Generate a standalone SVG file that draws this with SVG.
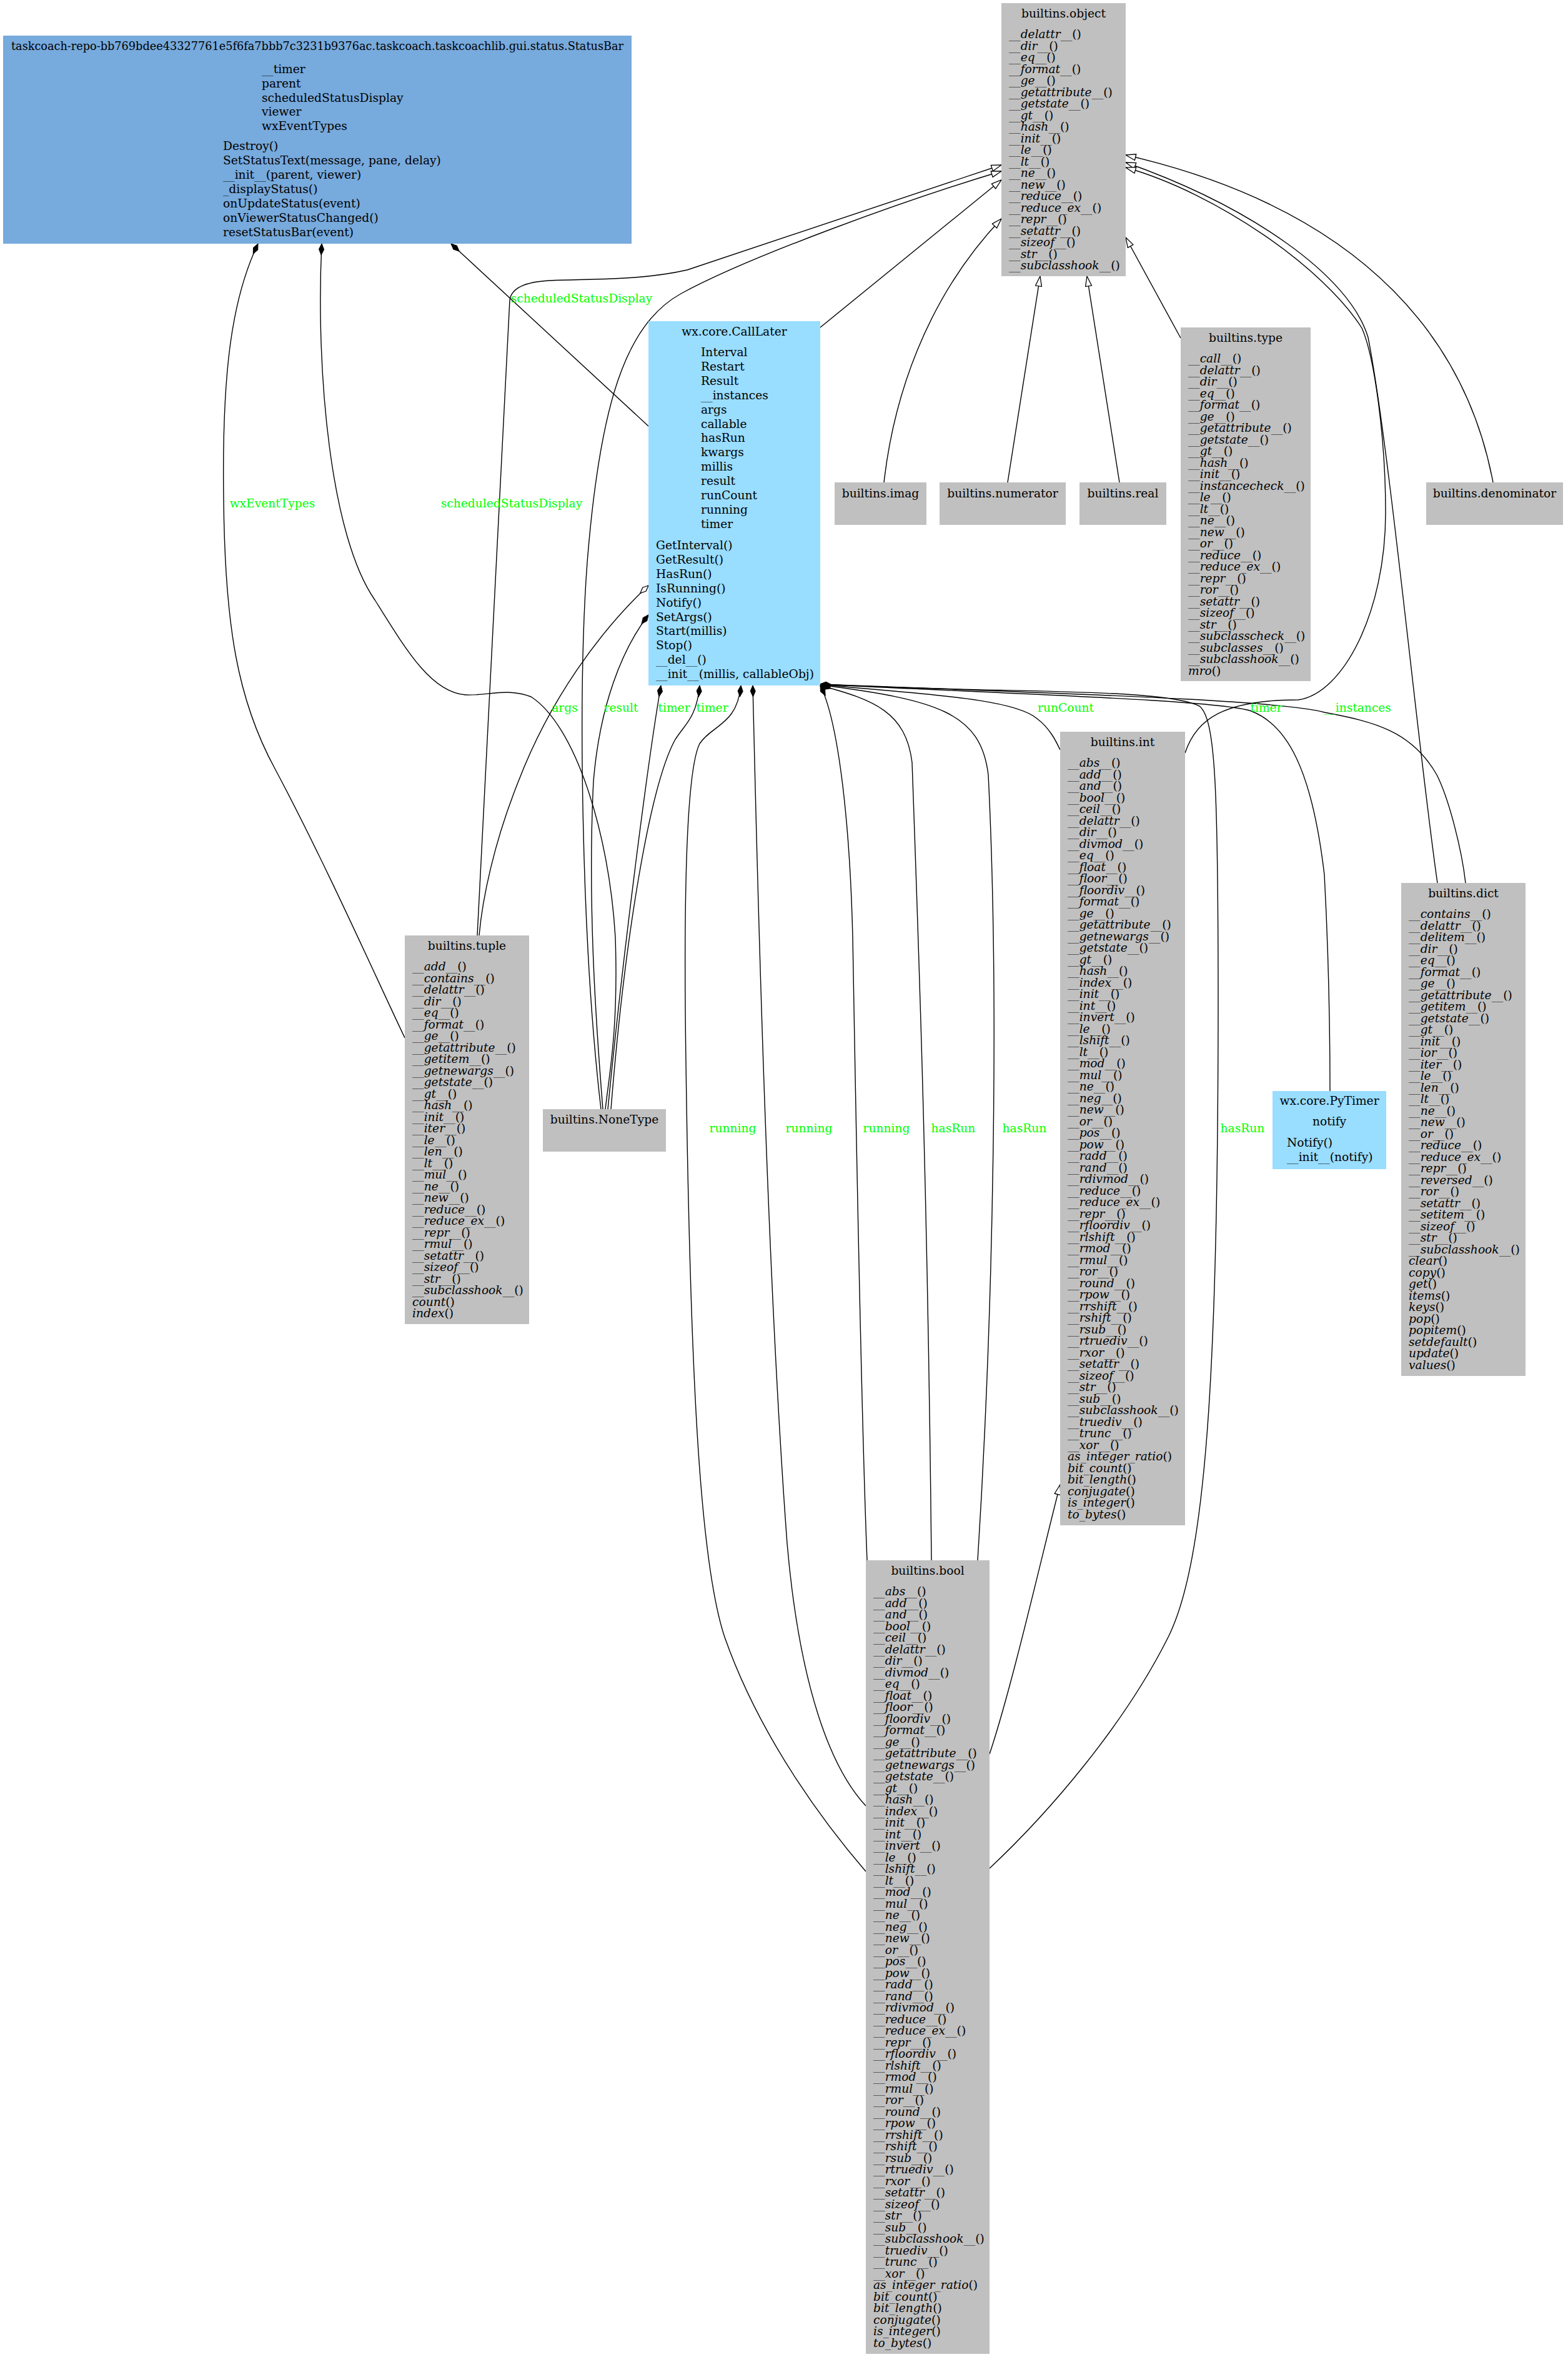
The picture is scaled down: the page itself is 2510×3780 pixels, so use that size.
<svg xmlns="http://www.w3.org/2000/svg" width="2510" height="3780" viewBox="0 0 2510 3780">
<style>
.n{font-family:"DejaVu Serif","Liberation Serif",serif;font-size:18.67px;fill:#000}
.t{text-anchor:middle}
.i{font-style:italic}
.lbl{font-family:"DejaVu Serif","Liberation Serif",serif;font-size:18.67px;fill:#00ff00;text-anchor:middle}
.e{fill:none;stroke:#000;stroke-width:1.4}
.inh{marker-end:url(#tri)}
.comp{marker-start:url(#dia)}
.agg{marker-start:url(#odia)}
.gray{fill:#c0c0c0}
.blue{fill:#77aadd}
.cyan{fill:#99ddff}
</style>
<defs>
<marker id="tri" markerUnits="userSpaceOnUse" viewBox="0 0 18 12" refX="17" refY="6" markerWidth="18" markerHeight="12" orient="auto"><path d="M1,1 L17,6 L1,11 z" fill="#fff" stroke="#000" stroke-width="1.3"/></marker>
<marker id="dia" markerUnits="userSpaceOnUse" viewBox="0 0 20 10" refX="1" refY="5" markerWidth="20" markerHeight="10" orient="auto"><path d="M1,5 L10,1 L19,5 L10,9 z" fill="#000" stroke="#000" stroke-width="1"/></marker>
<marker id="odia" markerUnits="userSpaceOnUse" viewBox="0 0 20 10" refX="1" refY="5" markerWidth="20" markerHeight="10" orient="auto"><path d="M1,5 L10,1 L19,5 L10,9 z" fill="#fff" stroke="#000" stroke-width="1.3"/></marker>
</defs>
<rect width="2510" height="3780" fill="#fff"/>

<g id="edges">
<path class="e inh" d="M764,1497 L816,480 Q820,452 880,449 C960,446 1030,448 1100,432 L1603,264"/>
<path class="e inh" d="M962,1775 C930,1500 925,1100 940,900 C960,650 1000,520 1090,470 C1200,410 1450,320 1603,274"/>
<path class="e inh" d="M1313,524 L1603,288"/>
<path class="e inh" d="M1415,772 C1430,640 1480,480 1603,350"/>
<path class="e inh" d="M1613,772 L1665,442"/>
<path class="e inh" d="M1792,772 L1740,442"/>
<path class="e inh" d="M1890,541 L1802,380"/>
<path class="e inh" d="M2390,772 C2350,560 2200,340 1802,248"/>
<path class="e inh" d="M2301,1413 C2270,1200 2225,720 2190,540 C2160,440 2000,330 1802,260"/>
<path class="e inh" d="M1897,1205 C1915,1150 1960,1120 2078,1120 C2150,1110 2218,980 2218,820 C2218,700 2200,570 2180,525 C2120,430 1950,310 1802,268"/>
<path class="e inh" d="M1584,2807 C1620,2700 1670,2480 1697,2376"/>

<path class="e comp" d="M722,390 L1038,682"/>
<path class="e comp" d="M515,390 C505,600 530,860 600,960 C650,1040 690,1108 745,1112 C780,1114 810,1100 850,1115 C920,1160 975,1330 985,1500 C990,1650 975,1720 969,1775"/>
<path class="e comp" d="M413,390 C370,480 355,600 358,800 C360,1000 380,1120 440,1230 C520,1380 600,1560 648,1661"/>
<path class="e agg" d="M1038,937 C960,1010 880,1120 830,1250 C790,1350 772,1440 767,1497"/>
<path class="e comp" d="M1038,984 C995,1040 960,1130 950,1250 C940,1450 955,1650 965,1775"/>
<path class="e comp" d="M1058,1097 C1040,1200 1000,1500 973,1775"/>
<path class="e comp" d="M1120,1097 C1115,1150 1095,1160 1080,1185 C1040,1260 1000,1500 978,1775"/>
<path class="e comp" d="M1186,1097 C1180,1160 1140,1160 1120,1190 C1095,1240 1095,1500 1098,1700 C1105,2200 1120,2500 1160,2620 C1220,2790 1330,2930 1386,2995"/>
<path class="e comp" d="M1205,1097 C1210,1300 1225,2000 1260,2470 C1280,2700 1330,2830 1386,2890"/>
<path class="e comp" d="M1313,1097 C1340,1150 1360,1300 1365,1500 C1372,1900 1380,2300 1388,2497"/>
<path class="e comp" d="M1313,1097 C1400,1120 1450,1140 1460,1220 C1470,1500 1485,1900 1491,2497"/>
<path class="e comp" d="M1313,1096 C1500,1120 1570,1140 1582,1240 C1600,1600 1590,2100 1565,2497"/>
<path class="e comp" d="M1313,1095 C1450,1110 1620,1115 1660,1150 C1680,1165 1690,1185 1697,1200"/>
<path class="e comp" d="M1313,1095 C1600,1110 1860,1100 1920,1130 C1945,1150 1950,1250 1950,1600 C1950,2200 1930,2500 1870,2620 C1800,2760 1680,2900 1584,2990"/>
<path class="e comp" d="M1313,1095 C1600,1110 1950,1120 2003,1138 C2060,1160 2100,1230 2120,1400 C2128,1550 2129,1680 2129,1746"/>
<path class="e comp" d="M1313,1095 C1700,1110 2050,1120 2120,1140 C2200,1155 2260,1170 2300,1240 C2320,1280 2340,1360 2346,1413"/>

<text class="lbl" x="931" y="484">scheduledStatusDisplay</text>
<text class="lbl" x="819" y="812">scheduledStatusDisplay</text>
<text class="lbl" x="436" y="812">wxEventTypes</text>
<text class="lbl" x="904" y="1139">args</text>
<text class="lbl" x="994" y="1139">result</text>
<text class="lbl" x="1079" y="1139">timer</text>
<text class="lbl" x="1140" y="1139">timer</text>
<text class="lbl" x="1706" y="1139">runCount</text>
<text class="lbl" x="2027" y="1139">timer</text>
<text class="lbl" x="2173" y="1139">__instances</text>
<text class="lbl" x="1173" y="1812">running</text>
<text class="lbl" x="1295" y="1812">running</text>
<text class="lbl" x="1419" y="1812">running</text>
<text class="lbl" x="1526" y="1812">hasRun</text>
<text class="lbl" x="1640" y="1812">hasRun</text>
<text class="lbl" x="1989" y="1812">hasRun</text>
</g>

<g id="StatusBar">
<rect class="blue" x="5" y="57" width="1006" height="333"/>
<text class="n" x="18" y="80" textLength="980" lengthAdjust="spacingAndGlyphs">taskcoach-repo-bb769bdee43327761e5f6fa7bbb7c3231b9376ac.taskcoach.taskcoachlib.gui.status.StatusBar</text>
<text class="n"><tspan x="419" y="117">__timer</tspan><tspan x="419" dy="22.75">parent</tspan><tspan x="419" dy="22.75">scheduledStatusDisplay</tspan><tspan x="419" dy="22.75">viewer</tspan><tspan x="419" dy="22.75">wxEventTypes</tspan></text>
<text class="n"><tspan x="357" y="240">Destroy()</tspan><tspan x="357" dy="23">SetStatusText(message, pane, delay)</tspan><tspan x="357" dy="23">__init__(parent, viewer)</tspan><tspan x="357" dy="23">_displayStatus()</tspan><tspan x="357" dy="23">onUpdateStatus(event)</tspan><tspan x="357" dy="23">onViewerStatusChanged()</tspan><tspan x="357" dy="23">resetStatusBar(event)</tspan></text>
</g>

<g id="CallLater">
<rect class="cyan" x="1038" y="514" width="275" height="583"/>
<text class="n t" x="1175.5" y="537">wx.core.CallLater</text>
<text class="n"><tspan x="1122" y="570">Interval</tspan><tspan x="1122" dy="22.9">Restart</tspan><tspan x="1122" dy="22.9">Result</tspan><tspan x="1122" dy="22.9">__instances</tspan><tspan x="1122" dy="22.9">args</tspan><tspan x="1122" dy="22.9">callable</tspan><tspan x="1122" dy="22.9">hasRun</tspan><tspan x="1122" dy="22.9">kwargs</tspan><tspan x="1122" dy="22.9">millis</tspan><tspan x="1122" dy="22.9">result</tspan><tspan x="1122" dy="22.9">runCount</tspan><tspan x="1122" dy="22.9">running</tspan><tspan x="1122" dy="22.9">timer</tspan></text>
<text class="n"><tspan x="1050" y="879">GetInterval()</tspan><tspan x="1050" dy="22.9">GetResult()</tspan><tspan x="1050" dy="22.9">HasRun()</tspan><tspan x="1050" dy="22.9">IsRunning()</tspan><tspan x="1050" dy="22.9">Notify()</tspan><tspan x="1050" dy="22.9">SetArgs()</tspan><tspan x="1050" dy="22.9">Start(millis)</tspan><tspan x="1050" dy="22.9">Stop()</tspan><tspan x="1050" dy="22.9">__del__()</tspan><tspan x="1050" dy="22.9">__init__(millis, callableObj)</tspan></text>
</g>

<g id="PyTimer">
<rect class="cyan" x="2037" y="1746" width="182" height="125"/>
<text class="n t" x="2128" y="1768">wx.core.PyTimer</text>
<text class="n" x="2101" y="1801">notify</text>
<text class="n"><tspan x="2060" y="1835">Notify()</tspan><tspan x="2060" dy="23">__init__(notify)</tspan></text>
</g>

<g id="object">
<rect class="gray" x="1603" y="5" width="199" height="437"/>
<text class="n t" x="1702.5" y="28">builtins.object</text>
<text class="n"><tspan x="1615" y="61"><tspan class="i">__delattr__</tspan>()</tspan><tspan x="1615" dy="18.5"><tspan class="i">__dir__</tspan>()</tspan><tspan x="1615" dy="18.5"><tspan class="i">__eq__</tspan>()</tspan><tspan x="1615" dy="18.5"><tspan class="i">__format__</tspan>()</tspan><tspan x="1615" dy="18.5"><tspan class="i">__ge__</tspan>()</tspan><tspan x="1615" dy="18.5"><tspan class="i">__getattribute__</tspan>()</tspan><tspan x="1615" dy="18.5"><tspan class="i">__getstate__</tspan>()</tspan><tspan x="1615" dy="18.5"><tspan class="i">__gt__</tspan>()</tspan><tspan x="1615" dy="18.5"><tspan class="i">__hash__</tspan>()</tspan><tspan x="1615" dy="18.5"><tspan class="i">__init__</tspan>()</tspan><tspan x="1615" dy="18.5"><tspan class="i">__le__</tspan>()</tspan><tspan x="1615" dy="18.5"><tspan class="i">__lt__</tspan>()</tspan><tspan x="1615" dy="18.5"><tspan class="i">__ne__</tspan>()</tspan><tspan x="1615" dy="18.5"><tspan class="i">__new__</tspan>()</tspan><tspan x="1615" dy="18.5"><tspan class="i">__reduce__</tspan>()</tspan><tspan x="1615" dy="18.5"><tspan class="i">__reduce_ex__</tspan>()</tspan><tspan x="1615" dy="18.5"><tspan class="i">__repr__</tspan>()</tspan><tspan x="1615" dy="18.5"><tspan class="i">__setattr__</tspan>()</tspan><tspan x="1615" dy="18.5"><tspan class="i">__sizeof__</tspan>()</tspan><tspan x="1615" dy="18.5"><tspan class="i">__str__</tspan>()</tspan><tspan x="1615" dy="18.5"><tspan class="i">__subclasshook__</tspan>()</tspan></text>
</g>

<g id="type">
<rect class="gray" x="1890" y="524" width="208" height="566"/>
<text class="n t" x="1994" y="547">builtins.type</text>
<text class="n"><tspan x="1902" y="580"><tspan class="i">__call__</tspan>()</tspan><tspan x="1902" dy="18.5"><tspan class="i">__delattr__</tspan>()</tspan><tspan x="1902" dy="18.5"><tspan class="i">__dir__</tspan>()</tspan><tspan x="1902" dy="18.5"><tspan class="i">__eq__</tspan>()</tspan><tspan x="1902" dy="18.5"><tspan class="i">__format__</tspan>()</tspan><tspan x="1902" dy="18.5"><tspan class="i">__ge__</tspan>()</tspan><tspan x="1902" dy="18.5"><tspan class="i">__getattribute__</tspan>()</tspan><tspan x="1902" dy="18.5"><tspan class="i">__getstate__</tspan>()</tspan><tspan x="1902" dy="18.5"><tspan class="i">__gt__</tspan>()</tspan><tspan x="1902" dy="18.5"><tspan class="i">__hash__</tspan>()</tspan><tspan x="1902" dy="18.5"><tspan class="i">__init__</tspan>()</tspan><tspan x="1902" dy="18.5"><tspan class="i">__instancecheck__</tspan>()</tspan><tspan x="1902" dy="18.5"><tspan class="i">__le__</tspan>()</tspan><tspan x="1902" dy="18.5"><tspan class="i">__lt__</tspan>()</tspan><tspan x="1902" dy="18.5"><tspan class="i">__ne__</tspan>()</tspan><tspan x="1902" dy="18.5"><tspan class="i">__new__</tspan>()</tspan><tspan x="1902" dy="18.5"><tspan class="i">__or__</tspan>()</tspan><tspan x="1902" dy="18.5"><tspan class="i">__reduce__</tspan>()</tspan><tspan x="1902" dy="18.5"><tspan class="i">__reduce_ex__</tspan>()</tspan><tspan x="1902" dy="18.5"><tspan class="i">__repr__</tspan>()</tspan><tspan x="1902" dy="18.5"><tspan class="i">__ror__</tspan>()</tspan><tspan x="1902" dy="18.5"><tspan class="i">__setattr__</tspan>()</tspan><tspan x="1902" dy="18.5"><tspan class="i">__sizeof__</tspan>()</tspan><tspan x="1902" dy="18.5"><tspan class="i">__str__</tspan>()</tspan><tspan x="1902" dy="18.5"><tspan class="i">__subclasscheck__</tspan>()</tspan><tspan x="1902" dy="18.5"><tspan class="i">__subclasses__</tspan>()</tspan><tspan x="1902" dy="18.5"><tspan class="i">__subclasshook__</tspan>()</tspan><tspan x="1902" dy="18.5"><tspan class="i">mro</tspan>()</tspan></text>
</g>

<g id="imag">
<rect class="gray" x="1336" y="772" width="147" height="68"/>
<text class="n t" x="1409.5" y="796">builtins.imag</text>
</g>
<g id="numerator">
<rect class="gray" x="1504" y="772" width="202" height="68"/>
<text class="n t" x="1605" y="796">builtins.numerator</text>
</g>
<g id="real">
<rect class="gray" x="1728" y="772" width="139" height="68"/>
<text class="n t" x="1797.5" y="796">builtins.real</text>
</g>
<g id="denominator">
<rect class="gray" x="2283" y="772" width="219" height="68"/>
<text class="n t" x="2392.5" y="796">builtins.denominator</text>
</g>
<g id="NoneType">
<rect class="gray" x="869" y="1775" width="197" height="68"/>
<text class="n t" x="967.5" y="1798">builtins.NoneType</text>
</g>

<g id="int">
<rect class="gray" x="1697" y="1171" width="200" height="1270"/>
<text class="n t" x="1797" y="1194">builtins.int</text>
<text class="n"><tspan x="1709" y="1227"><tspan class="i">__abs__</tspan>()</tspan><tspan x="1709" dy="18.5"><tspan class="i">__add__</tspan>()</tspan><tspan x="1709" dy="18.5"><tspan class="i">__and__</tspan>()</tspan><tspan x="1709" dy="18.5"><tspan class="i">__bool__</tspan>()</tspan><tspan x="1709" dy="18.5"><tspan class="i">__ceil__</tspan>()</tspan><tspan x="1709" dy="18.5"><tspan class="i">__delattr__</tspan>()</tspan><tspan x="1709" dy="18.5"><tspan class="i">__dir__</tspan>()</tspan><tspan x="1709" dy="18.5"><tspan class="i">__divmod__</tspan>()</tspan><tspan x="1709" dy="18.5"><tspan class="i">__eq__</tspan>()</tspan><tspan x="1709" dy="18.5"><tspan class="i">__float__</tspan>()</tspan><tspan x="1709" dy="18.5"><tspan class="i">__floor__</tspan>()</tspan><tspan x="1709" dy="18.5"><tspan class="i">__floordiv__</tspan>()</tspan><tspan x="1709" dy="18.5"><tspan class="i">__format__</tspan>()</tspan><tspan x="1709" dy="18.5"><tspan class="i">__ge__</tspan>()</tspan><tspan x="1709" dy="18.5"><tspan class="i">__getattribute__</tspan>()</tspan><tspan x="1709" dy="18.5"><tspan class="i">__getnewargs__</tspan>()</tspan><tspan x="1709" dy="18.5"><tspan class="i">__getstate__</tspan>()</tspan><tspan x="1709" dy="18.5"><tspan class="i">__gt__</tspan>()</tspan><tspan x="1709" dy="18.5"><tspan class="i">__hash__</tspan>()</tspan><tspan x="1709" dy="18.5"><tspan class="i">__index__</tspan>()</tspan><tspan x="1709" dy="18.5"><tspan class="i">__init__</tspan>()</tspan><tspan x="1709" dy="18.5"><tspan class="i">__int__</tspan>()</tspan><tspan x="1709" dy="18.5"><tspan class="i">__invert__</tspan>()</tspan><tspan x="1709" dy="18.5"><tspan class="i">__le__</tspan>()</tspan><tspan x="1709" dy="18.5"><tspan class="i">__lshift__</tspan>()</tspan><tspan x="1709" dy="18.5"><tspan class="i">__lt__</tspan>()</tspan><tspan x="1709" dy="18.5"><tspan class="i">__mod__</tspan>()</tspan><tspan x="1709" dy="18.5"><tspan class="i">__mul__</tspan>()</tspan><tspan x="1709" dy="18.5"><tspan class="i">__ne__</tspan>()</tspan><tspan x="1709" dy="18.5"><tspan class="i">__neg__</tspan>()</tspan><tspan x="1709" dy="18.5"><tspan class="i">__new__</tspan>()</tspan><tspan x="1709" dy="18.5"><tspan class="i">__or__</tspan>()</tspan><tspan x="1709" dy="18.5"><tspan class="i">__pos__</tspan>()</tspan><tspan x="1709" dy="18.5"><tspan class="i">__pow__</tspan>()</tspan><tspan x="1709" dy="18.5"><tspan class="i">__radd__</tspan>()</tspan><tspan x="1709" dy="18.5"><tspan class="i">__rand__</tspan>()</tspan><tspan x="1709" dy="18.5"><tspan class="i">__rdivmod__</tspan>()</tspan><tspan x="1709" dy="18.5"><tspan class="i">__reduce__</tspan>()</tspan><tspan x="1709" dy="18.5"><tspan class="i">__reduce_ex__</tspan>()</tspan><tspan x="1709" dy="18.5"><tspan class="i">__repr__</tspan>()</tspan><tspan x="1709" dy="18.5"><tspan class="i">__rfloordiv__</tspan>()</tspan><tspan x="1709" dy="18.5"><tspan class="i">__rlshift__</tspan>()</tspan><tspan x="1709" dy="18.5"><tspan class="i">__rmod__</tspan>()</tspan><tspan x="1709" dy="18.5"><tspan class="i">__rmul__</tspan>()</tspan><tspan x="1709" dy="18.5"><tspan class="i">__ror__</tspan>()</tspan><tspan x="1709" dy="18.5"><tspan class="i">__round__</tspan>()</tspan><tspan x="1709" dy="18.5"><tspan class="i">__rpow__</tspan>()</tspan><tspan x="1709" dy="18.5"><tspan class="i">__rrshift__</tspan>()</tspan><tspan x="1709" dy="18.5"><tspan class="i">__rshift__</tspan>()</tspan><tspan x="1709" dy="18.5"><tspan class="i">__rsub__</tspan>()</tspan><tspan x="1709" dy="18.5"><tspan class="i">__rtruediv__</tspan>()</tspan><tspan x="1709" dy="18.5"><tspan class="i">__rxor__</tspan>()</tspan><tspan x="1709" dy="18.5"><tspan class="i">__setattr__</tspan>()</tspan><tspan x="1709" dy="18.5"><tspan class="i">__sizeof__</tspan>()</tspan><tspan x="1709" dy="18.5"><tspan class="i">__str__</tspan>()</tspan><tspan x="1709" dy="18.5"><tspan class="i">__sub__</tspan>()</tspan><tspan x="1709" dy="18.5"><tspan class="i">__subclasshook__</tspan>()</tspan><tspan x="1709" dy="18.5"><tspan class="i">__truediv__</tspan>()</tspan><tspan x="1709" dy="18.5"><tspan class="i">__trunc__</tspan>()</tspan><tspan x="1709" dy="18.5"><tspan class="i">__xor__</tspan>()</tspan><tspan x="1709" dy="18.5"><tspan class="i">as_integer_ratio</tspan>()</tspan><tspan x="1709" dy="18.5"><tspan class="i">bit_count</tspan>()</tspan><tspan x="1709" dy="18.5"><tspan class="i">bit_length</tspan>()</tspan><tspan x="1709" dy="18.5"><tspan class="i">conjugate</tspan>()</tspan><tspan x="1709" dy="18.5"><tspan class="i">is_integer</tspan>()</tspan><tspan x="1709" dy="18.5"><tspan class="i">to_bytes</tspan>()</tspan></text>
</g>

<g id="dict">
<rect class="gray" x="2243" y="1413" width="199" height="789"/>
<text class="n t" x="2342.5" y="1436">builtins.dict</text>
<text class="n"><tspan x="2255" y="1469"><tspan class="i">__contains__</tspan>()</tspan><tspan x="2255" dy="18.5"><tspan class="i">__delattr__</tspan>()</tspan><tspan x="2255" dy="18.5"><tspan class="i">__delitem__</tspan>()</tspan><tspan x="2255" dy="18.5"><tspan class="i">__dir__</tspan>()</tspan><tspan x="2255" dy="18.5"><tspan class="i">__eq__</tspan>()</tspan><tspan x="2255" dy="18.5"><tspan class="i">__format__</tspan>()</tspan><tspan x="2255" dy="18.5"><tspan class="i">__ge__</tspan>()</tspan><tspan x="2255" dy="18.5"><tspan class="i">__getattribute__</tspan>()</tspan><tspan x="2255" dy="18.5"><tspan class="i">__getitem__</tspan>()</tspan><tspan x="2255" dy="18.5"><tspan class="i">__getstate__</tspan>()</tspan><tspan x="2255" dy="18.5"><tspan class="i">__gt__</tspan>()</tspan><tspan x="2255" dy="18.5"><tspan class="i">__init__</tspan>()</tspan><tspan x="2255" dy="18.5"><tspan class="i">__ior__</tspan>()</tspan><tspan x="2255" dy="18.5"><tspan class="i">__iter__</tspan>()</tspan><tspan x="2255" dy="18.5"><tspan class="i">__le__</tspan>()</tspan><tspan x="2255" dy="18.5"><tspan class="i">__len__</tspan>()</tspan><tspan x="2255" dy="18.5"><tspan class="i">__lt__</tspan>()</tspan><tspan x="2255" dy="18.5"><tspan class="i">__ne__</tspan>()</tspan><tspan x="2255" dy="18.5"><tspan class="i">__new__</tspan>()</tspan><tspan x="2255" dy="18.5"><tspan class="i">__or__</tspan>()</tspan><tspan x="2255" dy="18.5"><tspan class="i">__reduce__</tspan>()</tspan><tspan x="2255" dy="18.5"><tspan class="i">__reduce_ex__</tspan>()</tspan><tspan x="2255" dy="18.5"><tspan class="i">__repr__</tspan>()</tspan><tspan x="2255" dy="18.5"><tspan class="i">__reversed__</tspan>()</tspan><tspan x="2255" dy="18.5"><tspan class="i">__ror__</tspan>()</tspan><tspan x="2255" dy="18.5"><tspan class="i">__setattr__</tspan>()</tspan><tspan x="2255" dy="18.5"><tspan class="i">__setitem__</tspan>()</tspan><tspan x="2255" dy="18.5"><tspan class="i">__sizeof__</tspan>()</tspan><tspan x="2255" dy="18.5"><tspan class="i">__str__</tspan>()</tspan><tspan x="2255" dy="18.5"><tspan class="i">__subclasshook__</tspan>()</tspan><tspan x="2255" dy="18.5"><tspan class="i">clear</tspan>()</tspan><tspan x="2255" dy="18.5"><tspan class="i">copy</tspan>()</tspan><tspan x="2255" dy="18.5"><tspan class="i">get</tspan>()</tspan><tspan x="2255" dy="18.5"><tspan class="i">items</tspan>()</tspan><tspan x="2255" dy="18.5"><tspan class="i">keys</tspan>()</tspan><tspan x="2255" dy="18.5"><tspan class="i">pop</tspan>()</tspan><tspan x="2255" dy="18.5"><tspan class="i">popitem</tspan>()</tspan><tspan x="2255" dy="18.5"><tspan class="i">setdefault</tspan>()</tspan><tspan x="2255" dy="18.5"><tspan class="i">update</tspan>()</tspan><tspan x="2255" dy="18.5"><tspan class="i">values</tspan>()</tspan></text>
</g>

<g id="tuple">
<rect class="gray" x="648" y="1497" width="199" height="622"/>
<text class="n t" x="747.5" y="1520">builtins.tuple</text>
<text class="n"><tspan x="660" y="1553"><tspan class="i">__add__</tspan>()</tspan><tspan x="660" dy="18.5"><tspan class="i">__contains__</tspan>()</tspan><tspan x="660" dy="18.5"><tspan class="i">__delattr__</tspan>()</tspan><tspan x="660" dy="18.5"><tspan class="i">__dir__</tspan>()</tspan><tspan x="660" dy="18.5"><tspan class="i">__eq__</tspan>()</tspan><tspan x="660" dy="18.5"><tspan class="i">__format__</tspan>()</tspan><tspan x="660" dy="18.5"><tspan class="i">__ge__</tspan>()</tspan><tspan x="660" dy="18.5"><tspan class="i">__getattribute__</tspan>()</tspan><tspan x="660" dy="18.5"><tspan class="i">__getitem__</tspan>()</tspan><tspan x="660" dy="18.5"><tspan class="i">__getnewargs__</tspan>()</tspan><tspan x="660" dy="18.5"><tspan class="i">__getstate__</tspan>()</tspan><tspan x="660" dy="18.5"><tspan class="i">__gt__</tspan>()</tspan><tspan x="660" dy="18.5"><tspan class="i">__hash__</tspan>()</tspan><tspan x="660" dy="18.5"><tspan class="i">__init__</tspan>()</tspan><tspan x="660" dy="18.5"><tspan class="i">__iter__</tspan>()</tspan><tspan x="660" dy="18.5"><tspan class="i">__le__</tspan>()</tspan><tspan x="660" dy="18.5"><tspan class="i">__len__</tspan>()</tspan><tspan x="660" dy="18.5"><tspan class="i">__lt__</tspan>()</tspan><tspan x="660" dy="18.5"><tspan class="i">__mul__</tspan>()</tspan><tspan x="660" dy="18.5"><tspan class="i">__ne__</tspan>()</tspan><tspan x="660" dy="18.5"><tspan class="i">__new__</tspan>()</tspan><tspan x="660" dy="18.5"><tspan class="i">__reduce__</tspan>()</tspan><tspan x="660" dy="18.5"><tspan class="i">__reduce_ex__</tspan>()</tspan><tspan x="660" dy="18.5"><tspan class="i">__repr__</tspan>()</tspan><tspan x="660" dy="18.5"><tspan class="i">__rmul__</tspan>()</tspan><tspan x="660" dy="18.5"><tspan class="i">__setattr__</tspan>()</tspan><tspan x="660" dy="18.5"><tspan class="i">__sizeof__</tspan>()</tspan><tspan x="660" dy="18.5"><tspan class="i">__str__</tspan>()</tspan><tspan x="660" dy="18.5"><tspan class="i">__subclasshook__</tspan>()</tspan><tspan x="660" dy="18.5"><tspan class="i">count</tspan>()</tspan><tspan x="660" dy="18.5"><tspan class="i">index</tspan>()</tspan></text>
</g>

<g id="bool">
<rect class="gray" x="1386" y="2497" width="198" height="1270"/>
<text class="n t" x="1485" y="2520">builtins.bool</text>
<text class="n"><tspan x="1398" y="2553"><tspan class="i">__abs__</tspan>()</tspan><tspan x="1398" dy="18.5"><tspan class="i">__add__</tspan>()</tspan><tspan x="1398" dy="18.5"><tspan class="i">__and__</tspan>()</tspan><tspan x="1398" dy="18.5"><tspan class="i">__bool__</tspan>()</tspan><tspan x="1398" dy="18.5"><tspan class="i">__ceil__</tspan>()</tspan><tspan x="1398" dy="18.5"><tspan class="i">__delattr__</tspan>()</tspan><tspan x="1398" dy="18.5"><tspan class="i">__dir__</tspan>()</tspan><tspan x="1398" dy="18.5"><tspan class="i">__divmod__</tspan>()</tspan><tspan x="1398" dy="18.5"><tspan class="i">__eq__</tspan>()</tspan><tspan x="1398" dy="18.5"><tspan class="i">__float__</tspan>()</tspan><tspan x="1398" dy="18.5"><tspan class="i">__floor__</tspan>()</tspan><tspan x="1398" dy="18.5"><tspan class="i">__floordiv__</tspan>()</tspan><tspan x="1398" dy="18.5"><tspan class="i">__format__</tspan>()</tspan><tspan x="1398" dy="18.5"><tspan class="i">__ge__</tspan>()</tspan><tspan x="1398" dy="18.5"><tspan class="i">__getattribute__</tspan>()</tspan><tspan x="1398" dy="18.5"><tspan class="i">__getnewargs__</tspan>()</tspan><tspan x="1398" dy="18.5"><tspan class="i">__getstate__</tspan>()</tspan><tspan x="1398" dy="18.5"><tspan class="i">__gt__</tspan>()</tspan><tspan x="1398" dy="18.5"><tspan class="i">__hash__</tspan>()</tspan><tspan x="1398" dy="18.5"><tspan class="i">__index__</tspan>()</tspan><tspan x="1398" dy="18.5"><tspan class="i">__init__</tspan>()</tspan><tspan x="1398" dy="18.5"><tspan class="i">__int__</tspan>()</tspan><tspan x="1398" dy="18.5"><tspan class="i">__invert__</tspan>()</tspan><tspan x="1398" dy="18.5"><tspan class="i">__le__</tspan>()</tspan><tspan x="1398" dy="18.5"><tspan class="i">__lshift__</tspan>()</tspan><tspan x="1398" dy="18.5"><tspan class="i">__lt__</tspan>()</tspan><tspan x="1398" dy="18.5"><tspan class="i">__mod__</tspan>()</tspan><tspan x="1398" dy="18.5"><tspan class="i">__mul__</tspan>()</tspan><tspan x="1398" dy="18.5"><tspan class="i">__ne__</tspan>()</tspan><tspan x="1398" dy="18.5"><tspan class="i">__neg__</tspan>()</tspan><tspan x="1398" dy="18.5"><tspan class="i">__new__</tspan>()</tspan><tspan x="1398" dy="18.5"><tspan class="i">__or__</tspan>()</tspan><tspan x="1398" dy="18.5"><tspan class="i">__pos__</tspan>()</tspan><tspan x="1398" dy="18.5"><tspan class="i">__pow__</tspan>()</tspan><tspan x="1398" dy="18.5"><tspan class="i">__radd__</tspan>()</tspan><tspan x="1398" dy="18.5"><tspan class="i">__rand__</tspan>()</tspan><tspan x="1398" dy="18.5"><tspan class="i">__rdivmod__</tspan>()</tspan><tspan x="1398" dy="18.5"><tspan class="i">__reduce__</tspan>()</tspan><tspan x="1398" dy="18.5"><tspan class="i">__reduce_ex__</tspan>()</tspan><tspan x="1398" dy="18.5"><tspan class="i">__repr__</tspan>()</tspan><tspan x="1398" dy="18.5"><tspan class="i">__rfloordiv__</tspan>()</tspan><tspan x="1398" dy="18.5"><tspan class="i">__rlshift__</tspan>()</tspan><tspan x="1398" dy="18.5"><tspan class="i">__rmod__</tspan>()</tspan><tspan x="1398" dy="18.5"><tspan class="i">__rmul__</tspan>()</tspan><tspan x="1398" dy="18.5"><tspan class="i">__ror__</tspan>()</tspan><tspan x="1398" dy="18.5"><tspan class="i">__round__</tspan>()</tspan><tspan x="1398" dy="18.5"><tspan class="i">__rpow__</tspan>()</tspan><tspan x="1398" dy="18.5"><tspan class="i">__rrshift__</tspan>()</tspan><tspan x="1398" dy="18.5"><tspan class="i">__rshift__</tspan>()</tspan><tspan x="1398" dy="18.5"><tspan class="i">__rsub__</tspan>()</tspan><tspan x="1398" dy="18.5"><tspan class="i">__rtruediv__</tspan>()</tspan><tspan x="1398" dy="18.5"><tspan class="i">__rxor__</tspan>()</tspan><tspan x="1398" dy="18.5"><tspan class="i">__setattr__</tspan>()</tspan><tspan x="1398" dy="18.5"><tspan class="i">__sizeof__</tspan>()</tspan><tspan x="1398" dy="18.5"><tspan class="i">__str__</tspan>()</tspan><tspan x="1398" dy="18.5"><tspan class="i">__sub__</tspan>()</tspan><tspan x="1398" dy="18.5"><tspan class="i">__subclasshook__</tspan>()</tspan><tspan x="1398" dy="18.5"><tspan class="i">__truediv__</tspan>()</tspan><tspan x="1398" dy="18.5"><tspan class="i">__trunc__</tspan>()</tspan><tspan x="1398" dy="18.5"><tspan class="i">__xor__</tspan>()</tspan><tspan x="1398" dy="18.5"><tspan class="i">as_integer_ratio</tspan>()</tspan><tspan x="1398" dy="18.5"><tspan class="i">bit_count</tspan>()</tspan><tspan x="1398" dy="18.5"><tspan class="i">bit_length</tspan>()</tspan><tspan x="1398" dy="18.5"><tspan class="i">conjugate</tspan>()</tspan><tspan x="1398" dy="18.5"><tspan class="i">is_integer</tspan>()</tspan><tspan x="1398" dy="18.5"><tspan class="i">to_bytes</tspan>()</tspan></text>
</g>
</svg>
